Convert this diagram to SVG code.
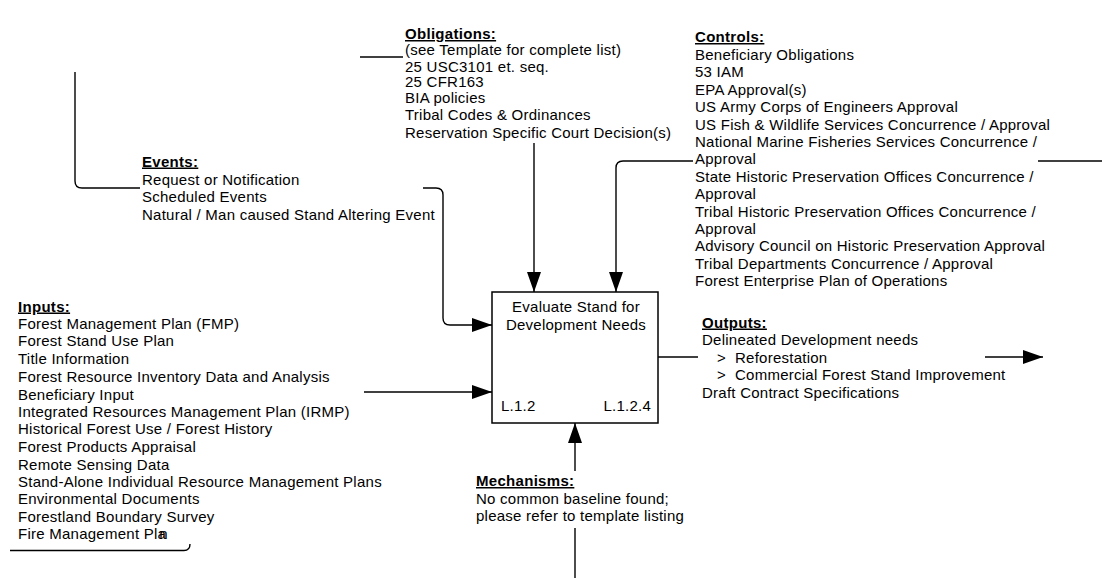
<svg xmlns="http://www.w3.org/2000/svg" width="1102" height="578" viewBox="0 0 1102 578">
  <style>
    .t { font-family: "Liberation Sans", Arial, sans-serif; font-size: 15px; fill: #000; letter-spacing: 0.25px; }
    .h { font-weight: bold; text-decoration: underline; letter-spacing: 0.3px; }
    .ln { fill: none; stroke: #000; stroke-width: 1.4; }
    .box { fill: #fff; stroke: #000; stroke-width: 1.5; }
  </style>
  <defs>
    <marker id="arrow" markerUnits="userSpaceOnUse" markerWidth="20" markerHeight="14" refX="20" refY="7" orient="auto">
      <path d="M0,0 L20,7 L0,14 z" fill="#000"/>
    </marker>
  </defs>
  <rect width="1102" height="578" fill="#fff"/>

  <!-- connectors -->
  <g id="connectors">
    <!-- obligations stub (left) -->
    <path class="ln" d="M360,57 H403"/>
    <!-- controls stub (right) -->
    <path class="ln" d="M1038,161 H1102"/>
    <!-- events incoming -->
    <path class="ln" d="M75,72 V181 Q75,188 82,188 H140"/>
    <path class="ln" d="M423,188 H436 Q443,188 443,195 V318 Q443,325 450,325 H492" marker-end="url(#arrow)"/>
    <!-- obligations to activity -->
    <path class="ln" d="M534,143 V292" marker-end="url(#arrow)"/>
    <!-- controls to activity -->
    <path class="ln" d="M693,161 H623 Q616,161 616,168 V292" marker-end="url(#arrow)"/>
    <!-- inputs to activity -->
    <path class="ln" d="M364,392 H492" marker-end="url(#arrow)"/>
    <path class="ln" d="M10,550.5 H184 Q190,550.5 190,544"/>
    <!-- outputs -->
    <path class="ln" d="M658,357 H698"/>
    <path class="ln" d="M985,357 H1043" marker-end="url(#arrow)"/>
    <!-- mechanisms -->
    <path class="ln" d="M575,471 V423" marker-end="url(#arrow)"/>
    <path class="ln" d="M575,528 V578"/>
  </g>

  <!-- activity box -->
  <g id="activity">
    <rect class="box" x="492" y="292" width="166" height="131"/>
    <text class="t" x="576" y="312" text-anchor="middle">Evaluate Stand for</text>
    <text class="t" x="576" y="330" text-anchor="middle">Development Needs</text>
    <text class="t" x="501" y="411">L.1.2</text>
    <text class="t" x="651" y="411" text-anchor="end">L.1.2.4</text>
  </g>

  <g id="obligations">
    <text class="t h" x="405" y="39">Obligations:</text>
    <text class="t" x="405" y="54.5">(see Template for complete list)</text>
    <text class="t" x="405" y="71.5">25 USC3101 et. seq.</text>
    <text class="t" x="405" y="87">25 CFR163</text>
    <text class="t" x="405" y="102.5">BIA policies</text>
    <text class="t" x="405" y="120">Tribal Codes &amp; Ordinances</text>
    <text class="t" x="405" y="138">Reservation Specific Court Decision(s)</text>
  </g>

  <g id="controls">
    <text class="t h" x="695" y="42">Controls:</text>
    <text class="t" x="695" y="60">Beneficiary Obligations</text>
    <text class="t" x="695" y="77.4">53 IAM</text>
    <text class="t" x="695" y="94.8">EPA Approval(s)</text>
    <text class="t" x="695" y="112.2">US Army Corps of Engineers Approval</text>
    <text class="t" x="695" y="129.6">US Fish &amp; Wildlife Services Concurrence / Approval</text>
    <text class="t" x="695" y="147">National Marine Fisheries Services Concurrence /</text>
    <text class="t" x="695" y="164.4">Approval</text>
    <text class="t" x="695" y="181.8">State Historic Preservation Offices Concurrence /</text>
    <text class="t" x="695" y="199.2">Approval</text>
    <text class="t" x="695" y="216.6">Tribal Historic Preservation Offices Concurrence /</text>
    <text class="t" x="695" y="234">Approval</text>
    <text class="t" x="695" y="251.4">Advisory Council on Historic Preservation Approval</text>
    <text class="t" x="695" y="268.8">Tribal Departments Concurrence / Approval</text>
    <text class="t" x="695" y="286.2">Forest Enterprise Plan of Operations</text>
  </g>

  <g id="events">
    <text class="t h" x="142" y="166.5">Events:</text>
    <text class="t" x="142" y="184.5">Request or Notification</text>
    <text class="t" x="142" y="202">Scheduled Events</text>
    <text class="t" x="142" y="219.5">Natural / Man caused Stand Altering Event</text>
  </g>

  <g id="inputs">
    <text class="t h" x="18" y="311.5">Inputs:</text>
    <text class="t" x="18" y="328.5">Forest Management Plan (FMP)</text>
    <text class="t" x="18" y="346">Forest Stand Use Plan</text>
    <text class="t" x="18" y="364">Title Information</text>
    <text class="t" x="18" y="381.5">Forest Resource Inventory Data and Analysis</text>
    <text class="t" x="18" y="399.5">Beneficiary Input</text>
    <text class="t" x="18" y="416.5">Integrated Resources Management Plan (IRMP)</text>
    <text class="t" x="18" y="434">Historical Forest Use / Forest History</text>
    <text class="t" x="18" y="452">Forest Products Appraisal</text>
    <text class="t" x="18" y="469.5">Remote Sensing Data</text>
    <text class="t" x="18" y="487">Stand-Alone Individual Resource Management Plans</text>
    <text class="t" x="18" y="504">Environmental Documents</text>
    <text class="t" x="18" y="521.5">Forestland Boundary Survey</text>
    <text class="t" x="18" y="539">Fire Management Pla<tspan dx="-7">n</tspan></text>
  </g>

  <g id="outputs">
    <text class="t h" x="702" y="327.5">Outputs:</text>
    <text class="t" x="702" y="345">Delineated Development needs</text>
    <text class="t" x="717" y="362.5">&gt;<tspan x="735">Reforestation</tspan></text>
    <text class="t" x="717" y="380">&gt;<tspan x="735">Commercial Forest Stand Improvement</tspan></text>
    <text class="t" x="702" y="397.5">Draft Contract Specifications</text>
  </g>

  <g id="mechanisms">
    <text class="t h" x="476" y="486">Mechanisms: </text>
    <text class="t" x="476" y="503.5">No common baseline found;</text>
    <text class="t" x="476" y="520.5">please refer to template listing</text>
  </g>
</svg>
